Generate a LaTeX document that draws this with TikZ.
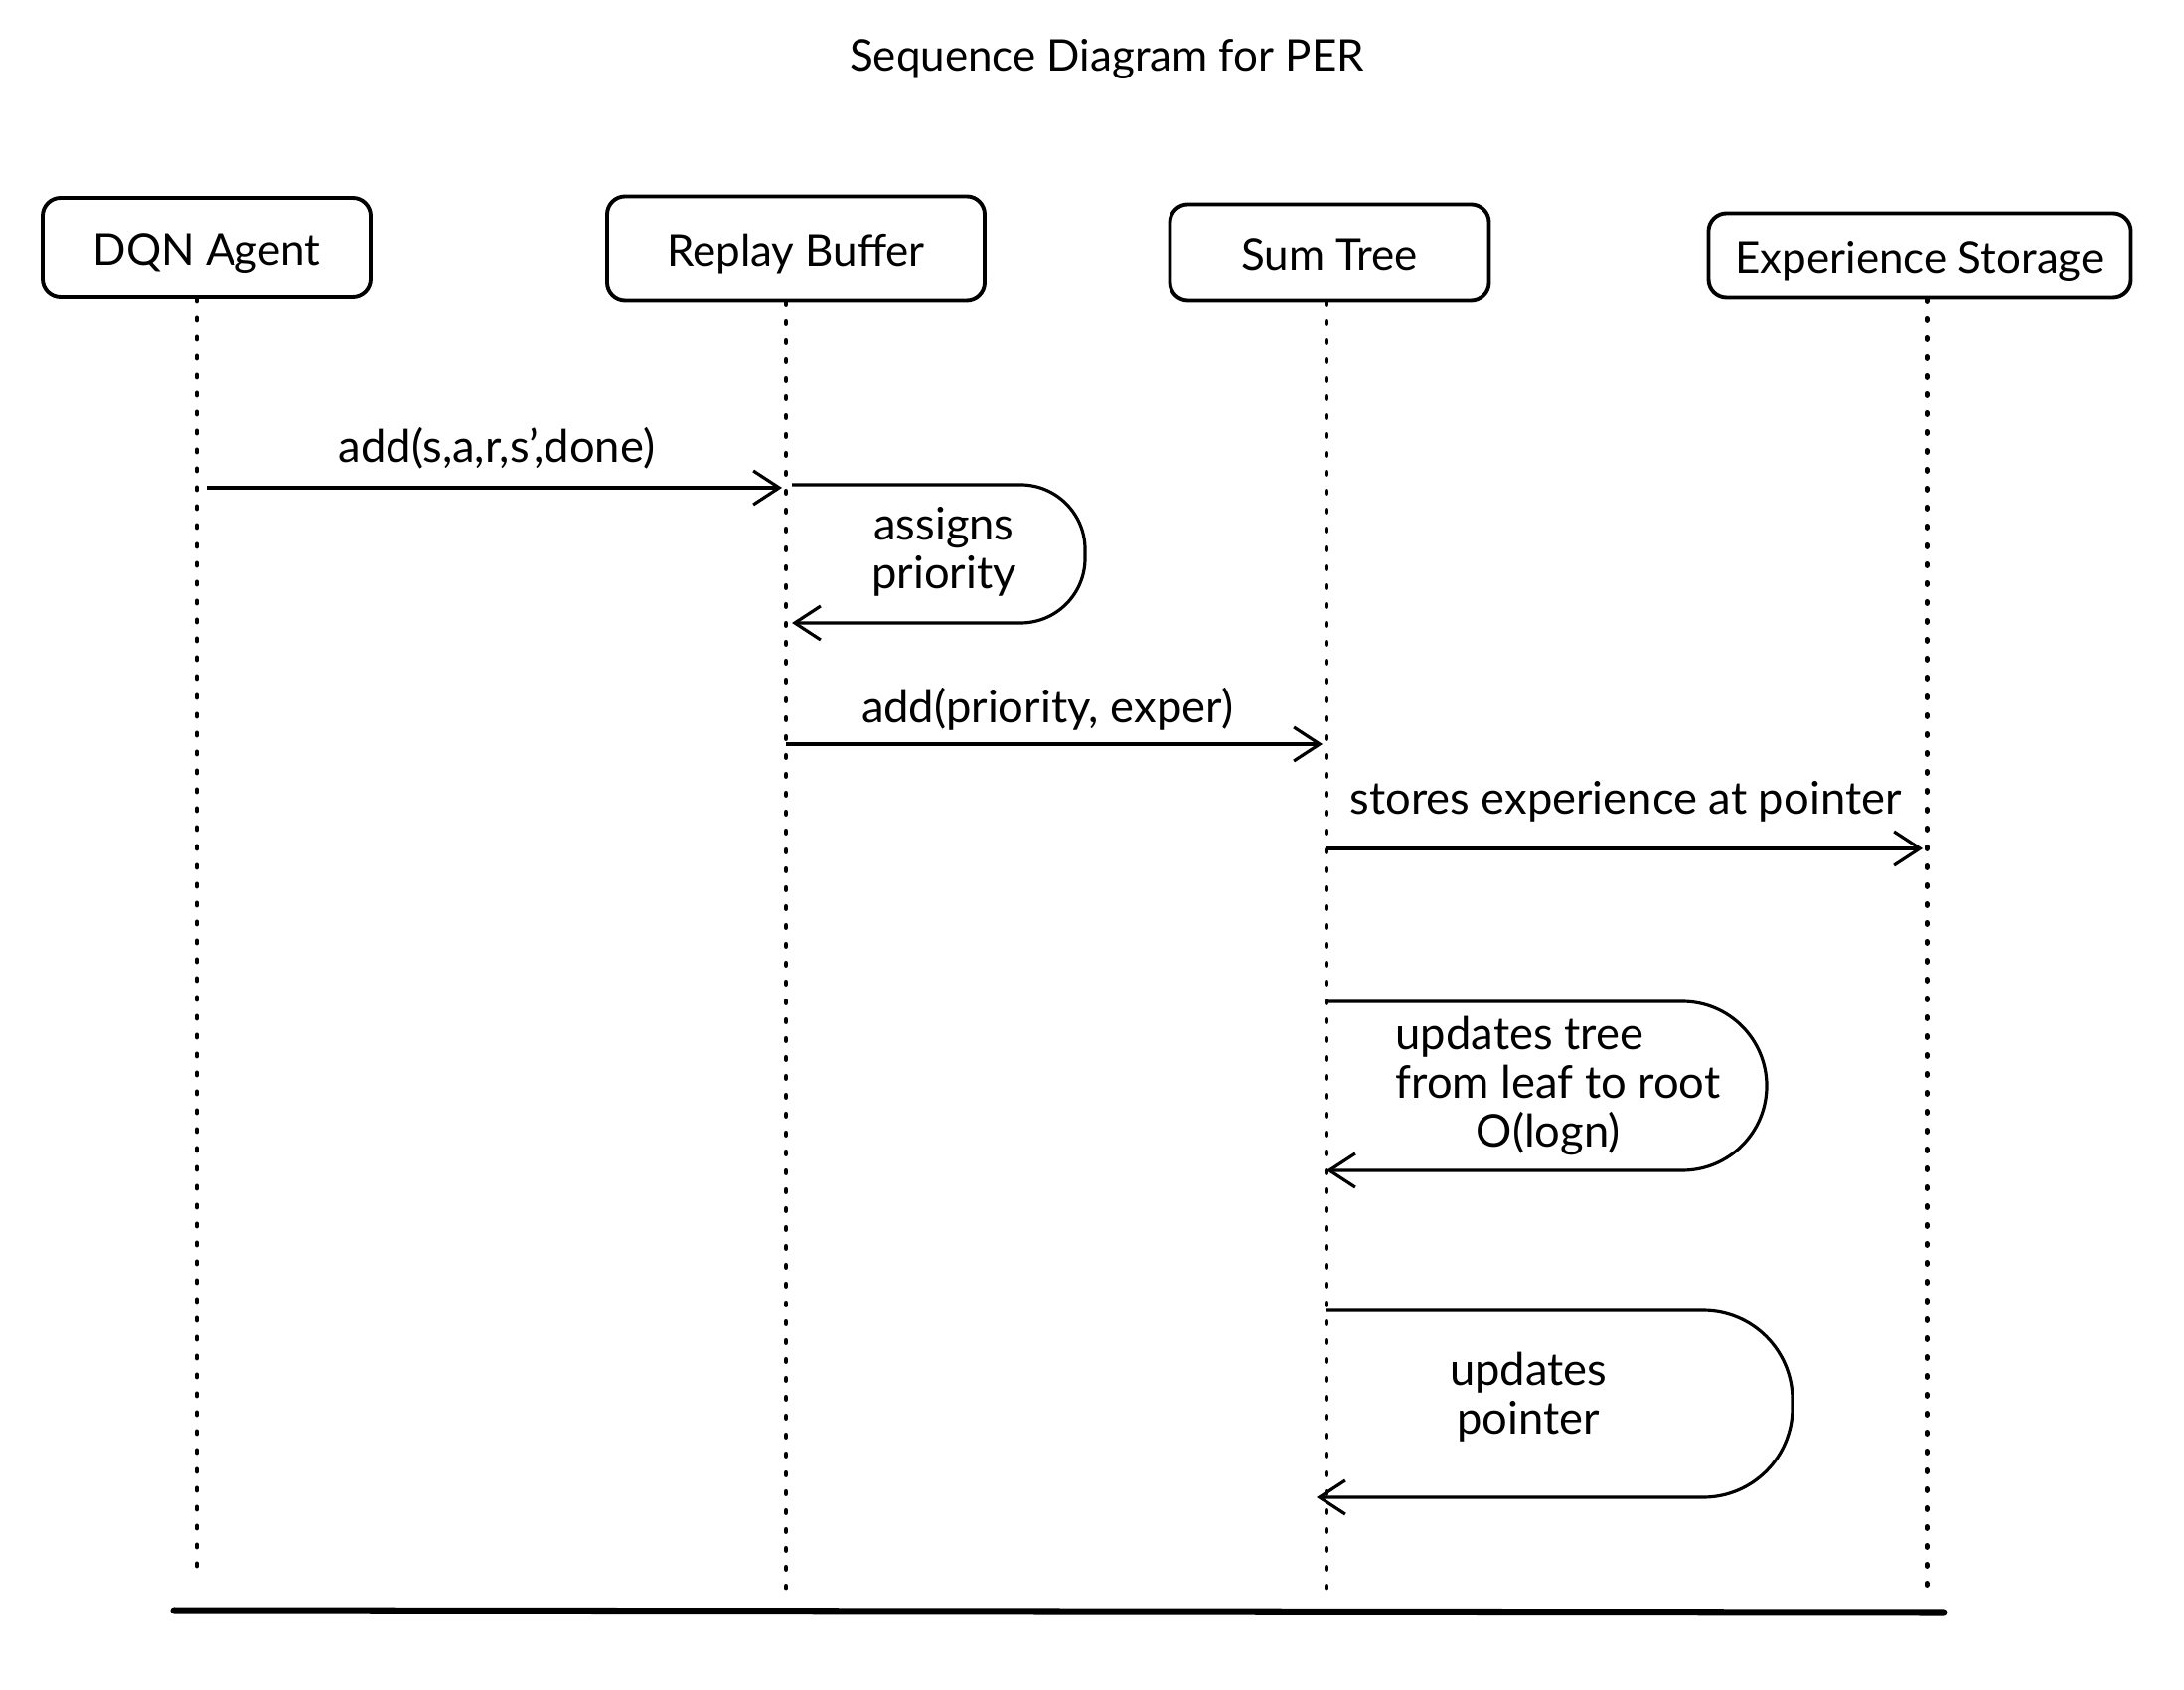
\documentclass[tikz,border=0pt]{standalone}
\usepackage{fontspec}
\setmainfont{Lato}
\usetikzlibrary{arrows.meta}

\tikzset{
  actor/.style={draw, line width=1.1pt, rounded corners=0.18cm, inner sep=0pt,
    text height=13.5pt, text depth=3pt, font=\fontsize{12.5}{15}\selectfont},
  life/.style={line width=1.4pt, dash pattern=on 0.02cm off 0.17cm, line cap=round},
  msg/.style={line width=0.9pt, -{Straight Barb[length=2.6mm,width=3.4mm]}},
  lbl/.style={font=\fontsize{12.9}{14}\selectfont, align=center},
}

\begin{document}
\begin{tikzpicture}
  \useasboundingbox (0,0) rectangle (21.98,17);
  \node[font=\fontsize{12.5}{15}\selectfont] (title) at (11.14,16.40) {Sequence Diagram for PER};

  % participants
  \node[actor, minimum width=3.30cm, minimum height=1.00cm] (agent) at (2.08,14.51) {DQN Agent};
  \node[actor, minimum width=3.80cm, minimum height=1.05cm] (buffer) at (8.01,14.50) {Replay Buffer};
  \node[actor, minimum width=3.21cm, minimum height=0.97cm] (tree) at (13.38,14.46) {Sum Tree};
  \node[actor, minimum width=4.25cm, minimum height=0.85cm] (storage) at (19.32,14.43) {Experience Storage};

  % lifelines
  \coordinate (agentTop) at ([xshift=-0.1cm]agent.south);
  \coordinate (bufferTop) at ([xshift=-0.1cm]buffer.south);
  \coordinate (treeTop) at ([xshift=-0.03cm]tree.south);
  \coordinate (storageTop) at ([xshift=0.07cm]storage.south);
  \coordinate (agentEnd) at (agentTop |- 0,1.23);
  \coordinate (bufferEnd) at (bufferTop |- 0,1.02);
  \coordinate (treeEnd) at (treeTop |- 0,1.02);
  \coordinate (storageEnd) at (storageTop |- 0,1.02);
  \draw[life] (agentTop) -- (agentEnd);
  \draw[life] (bufferTop) -- (bufferEnd);
  \draw[life] (treeTop) -- (treeEnd);
  \draw[life] (storageTop) -- (storageEnd);

  % add experience
  \coordinate (addFrom) at ([xshift=0.1cm]agentTop |- 0,12.09);
  \coordinate (addTo) at ([xshift=-0.04cm]bufferTop |- 0,12.09);
  \draw[msg] (addFrom) -- (addTo);
  \node[lbl] (addLbl) at (5.00,12.49) {add(s,a,r,s',done)};

  % assigns priority
  \coordinate (prioFrom) at ([xshift=0.06cm]bufferTop |- 0,12.12);
  \coordinate (prioTo) at ([xshift=0.06cm]bufferTop |- 0,10.73);
  \draw[msg, rounded corners=0.65cm] (prioFrom) -- (10.92,12.12) -- (10.92,10.73) -- (prioTo);
  \node[lbl] (prioLbl) at (9.50,11.45) {assigns\\priority};

  % add to sum tree
  \coordinate (treeFrom) at (bufferTop |- 0,9.51);
  \coordinate (treeTo) at ([xshift=-0.04cm]treeTop |- 0,9.51);
  \draw[msg] (treeFrom) -- (treeTo);
  \node[lbl] (treeLbl) at (10.54,9.86) {add(priority, exper)};

  % store experience
  \coordinate (storeFrom) at (treeTop |- 0,8.46);
  \coordinate (storeTo) at ([xshift=-0.04cm]storageTop |- 0,8.46);
  \draw[msg] (storeFrom) -- (storeTo);
  \node[lbl] (storeLbl) at (16.36,8.93) {stores experience at pointer};

  % update tree
  \coordinate (updFrom) at (treeTop |- 0,6.92);
  \coordinate (updTo) at (treeTop |- 0,5.22);
  \draw[msg, rounded corners=0.85cm] (updFrom) -- (17.78,6.92) -- (17.78,5.22) -- (updTo);
  \node[lbl, align=left] (updLbl) at (15.68,6.07) {updates tree\\from leaf to root\\\hspace*{0.81cm}O(logn)};

  % update pointer
  \coordinate (ptrFrom) at (treeTop |- 0,3.81);
  \coordinate (ptrTo) at ([xshift=-0.1cm]treeTop |- 0,1.93);
  \draw[msg, rounded corners=0.9cm] (ptrFrom) -- (18.04,3.81) -- (18.04,1.93) -- (ptrTo);
  \node[lbl] (ptrLbl) at (15.38,2.94) {updates\\pointer};

  \draw[line width=2pt, line cap=round] (1.75,0.79) -- (19.56,0.77);
\end{tikzpicture}
\end{document}
